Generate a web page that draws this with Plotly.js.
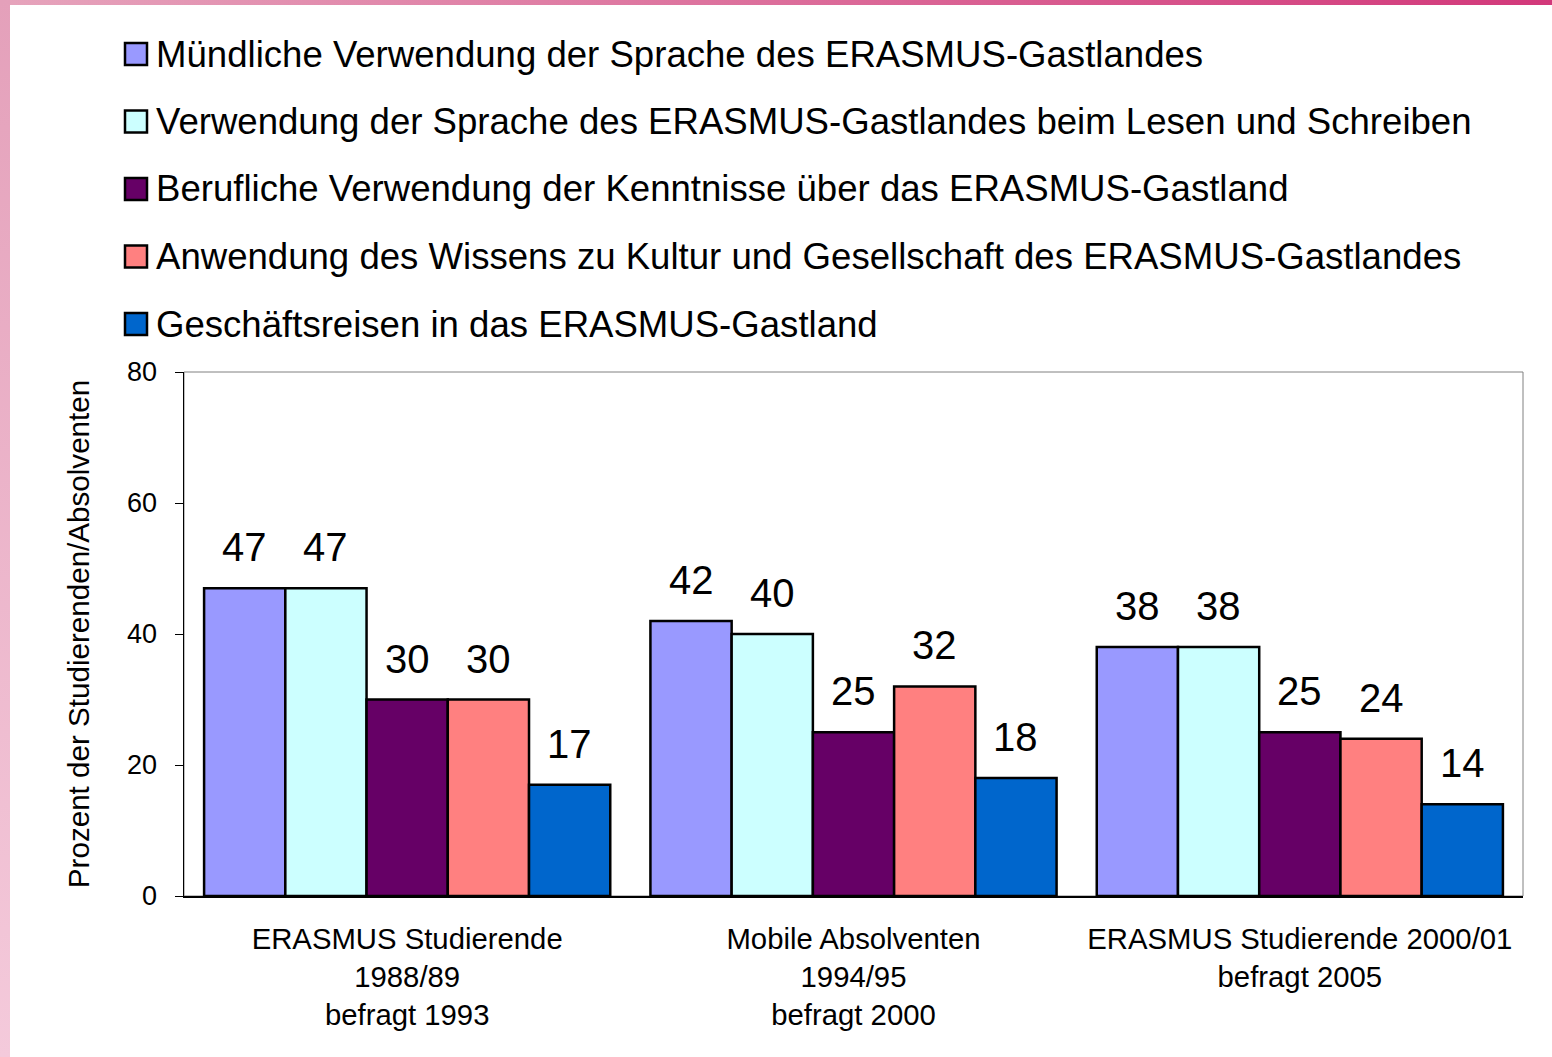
<!DOCTYPE html>
<html>
<head>
<meta charset="utf-8">
<script src="https://cdn.plot.ly/plotly-3.0.1.min.js"></script>
<style>
  html, body { margin: 0; padding: 0; background: #fff; }
  #wrap { position: relative; width: 1552px; height: 1057px; overflow: hidden; }
  #chart { position: absolute; left: 0; top: 0; width: 1552px; height: 1057px; }
  #topbar { position: absolute; left: 0; top: 0; width: 1552px; height: 5px;
            background: linear-gradient(to right, #e6a4bc, #d2387a); pointer-events: none; }
  #leftbar { position: absolute; left: 0; top: 0; width: 10px; height: 1057px;
             background: linear-gradient(to bottom, #e4a0ba, #f4cadb); pointer-events: none; }
</style>
</head>
<body>
<div id="wrap">
  <div id="chart"></div>
  <div id="topbar"></div>
  <div id="leftbar"></div>
</div>
<script>
// ---- data ----
const categories = [
  'ERASMUS Studierende<br>1988/89<br>befragt 1993',
  'Mobile Absolventen<br>1994/95<br>befragt 2000',
  'ERASMUS Studierende 2000/01<br>befragt 2005'
];
const seriesNames = [
  'Mündliche Verwendung der Sprache des ERASMUS-Gastlandes',
  'Verwendung der Sprache des ERASMUS-Gastlandes beim Lesen und Schreiben',
  'Berufliche Verwendung der Kenntnisse über das ERASMUS-Gastland',
  'Anwendung des Wissens zu Kultur und Gesellschaft des ERASMUS-Gastlandes',
  'Geschäftsreisen in das ERASMUS-Gastland'
];
const muendlich = [47, 42, 38];
const lesenSchreiben = [47, 40, 38];
const beruflich = [30, 25, 25];
const kultur = [30, 32, 24];
const geschaeftsreisen = [17, 18, 14];
const seriesValues = [muendlich, lesenSchreiben, beruflich, kultur, geschaeftsreisen];
const yTicks = [0, 20, 40, 60, 80];

// ---- styles ----
const colors = ['#9999FF', '#CCFFFF', '#660066', '#FF8080', '#0066CC'];
const FONT = '"Liberation Sans", Arial, sans-serif';

const W = 1552, H = 1057;
const M = {l: 184, r: 29, t: 372, b: 161};
const plotW = W - M.l - M.r, plotH = H - M.t - M.b;
const px2x = px => (px - M.l) / plotW;
const py2y = py => (H - M.b - py) / plotH;

const bargap = 0.09;
const nS = seriesValues.length;
const barPx = plotW / categories.length * (1 - bargap) / nS;

const traces = seriesValues.map((vals, i) => ({
  type: 'bar',
  name: seriesNames[i],
  x: categories,
  y: vals,
  marker: {color: colors[i], line: {color: '#000', width: 2.5}},
  showlegend: false,
  hoverinfo: 'name+y'
}));

const annotations = [];
seriesValues.forEach((vals, i) => {
  vals.forEach((v, j) => {
    annotations.push({
      x: categories[j], y: v, xref: 'x', yref: 'y',
      text: String(v), showarrow: false,
      xanchor: 'center', yanchor: 'bottom',
      xshift: (i - (nS - 1) / 2) * barPx, yshift: 17,
      font: {family: FONT, size: 40, color: '#000'}
    });
  });
});

// manual legend (large square symbols)
const shapes = [];
const legendY0 = 54, legendStep = 67.5;
seriesNames.forEach((name, i) => {
  const cy = legendY0 + i * legendStep;
  shapes.push({
    type: 'rect', xref: 'paper', yref: 'paper',
    x0: px2x(125), x1: px2x(147), y0: py2y(cy + 11), y1: py2y(cy - 11),
    fillcolor: colors[i], line: {color: '#000', width: 2.5}
  });
  annotations.push({
    xref: 'paper', yref: 'paper', x: px2x(154), y: py2y(cy),
    xanchor: 'left', yanchor: 'middle', showarrow: false,
    text: name, font: {family: FONT, size: 36.6, color: '#000'}
  });
});

// gray plot frame (top/right)
shapes.push({
  type: 'rect', xref: 'paper', yref: 'paper', x0: 0, x1: 1, y0: 0, y1: 1,
  line: {color: '#808080', width: 1}, fillcolor: 'rgba(0,0,0,0)', layer: 'below'
});

const layout = {
  width: W, height: H, autosize: false,
  margin: M,
  paper_bgcolor: '#ffffff', plot_bgcolor: '#ffffff',
  barmode: 'group', bargap: bargap, bargroupgap: 0,
  showlegend: false,
  font: {family: FONT, color: '#000'},
  xaxis: {
    type: 'category',
    showline: true, linecolor: '#000', linewidth: 1.5,
    ticks: '', showgrid: false,
    tickfont: {family: FONT, size: 29.3, color: '#000'},
    ticklabelstandoff: 16
  },
  yaxis: {
    range: [0, 80], tickvals: yTicks, ticktext: yTicks.map(String),
    showline: true, linecolor: '#000', linewidth: 1.5,
    ticks: 'outside', ticklen: 8, tickcolor: '#000', tickwidth: 1,
    showgrid: false, zeroline: false,
    tickfont: {family: FONT, size: 27, color: '#000'},
    ticklabelstandoff: 12,
    title: {text: 'Prozent der Studierenden/Absolventen',
            font: {family: FONT, size: 29.6, color: '#000'}, standoff: 28}
  },
  annotations: annotations,
  shapes: shapes
};

Plotly.newPlot('chart', traces, layout, {displayModeBar: false, staticPlot: true});
</script>
</body>
</html>
